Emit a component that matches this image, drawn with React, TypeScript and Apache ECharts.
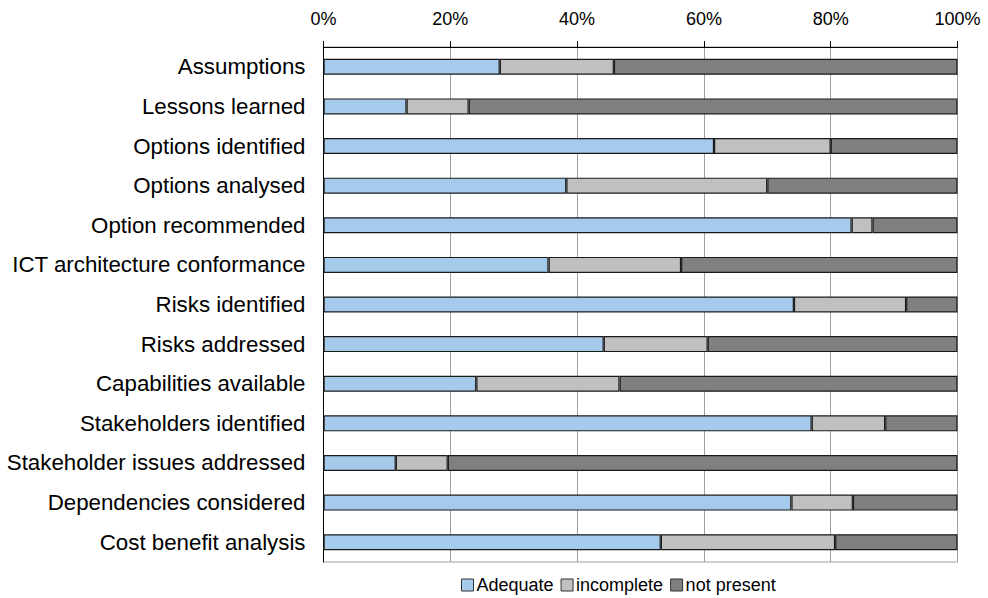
import React, { useEffect, useRef } from "react";
import * as echarts from "echarts";

const categories = [
  "Assumptions",
  "Lessons learned",
  "Options identified",
  "Options analysed",
  "Option recommended",
  "ICT architecture conformance",
  "Risks identified",
  "Risks addressed",
  "Capabilities available",
  "Stakeholders identified",
  "Stakeholder issues addressed",
  "Dependencies considered",
  "Cost benefit analysis",
];

const adequate = [27.8, 13.1, 61.6, 38.3, 83.3, 35.5, 74.2, 44.2, 24.1, 77.0, 11.4, 73.8, 53.2];
const incomplete = [18.0, 9.8, 18.4, 31.7, 3.3, 20.9, 17.7, 16.4, 22.6, 11.6, 8.2, 9.7, 27.5];
const notPresent = [54.2, 77.1, 20.0, 30.0, 13.4, 43.6, 8.1, 39.4, 53.3, 11.4, 80.4, 16.5, 19.3];

const seriesNames = ["Adequate", "incomplete", "not present"];
const seriesColors = ["#a6caec", "#c0c0c0", "#808080"];
const tickValues = [0, 20, 40, 60, 80, 100];

export default function App() {
  const ref = useRef<HTMLDivElement>(null);
  useEffect(() => {
    if (!ref.current) return;
    const chart = echarts.init(ref.current, null, { renderer: "svg" });
    const data = [adequate, incomplete, notPresent];
    chart.setOption({
      animation: false,
      textStyle: { fontFamily: "Liberation Sans, Arial, sans-serif", color: "#000" },
      grid: {
        left: 323.5,
        right: 30.5,
        top: 47,
        bottom: 36,
        show: true,
        borderColor: "#a0a0a0",
        borderWidth: 1,
        backgroundColor: "#fff",
      },
      legend: {
        data: seriesNames.map((n, i) => ({ name: n, itemStyle: { color: seriesColors[i], borderColor: "#333", borderWidth: 1 } })),
        left: 456,
        top: 571,
        itemWidth: 12,
        itemHeight: 12,
        itemGap: 7,
        icon: "rect",
        textStyle: { fontSize: 18, color: "#000", padding: [0, 0, 0, -2], fontFamily: "Liberation Sans, Arial, sans-serif" },
      },
      xAxis: {
        type: "value",
        position: "top",
        min: tickValues[0],
        max: tickValues[tickValues.length - 1],
        interval: 20,
        axisLine: { show: true, lineStyle: { color: "#000", width: 1 } },
        axisTick: { show: true, inside: false, length: 6, lineStyle: { color: "#000" } },
        axisLabel: { formatter: "{value}%", fontSize: 18, color: "#000", margin: 19 },
        splitLine: { show: true, lineStyle: { color: "#a0a0a0", width: 1 } },
      },
      yAxis: {
        type: "category",
        inverse: true,
        data: categories,
        axisLine: { show: true, lineStyle: { color: "#000", width: 1 } },
        axisTick: { show: false },
        axisLabel: { fontSize: 22.3, color: "#000", margin: 18 },
        splitLine: { show: false },
      },
      series: seriesNames.map((name, i) => ({
        name,
        type: "bar",
        stack: "total",
        barWidth: 16,
        data: data[i],
        itemStyle: { color: seriesColors[i], borderColor: "#1a1a1a", borderWidth: 1.2 },
      })),
    });
    return () => chart.dispose();
  }, []);
  return (
    <div
      ref={ref}
      style={{ position: "absolute", left: 0, top: 0, width: 988, height: 598, background: "#fff" }}
    />
  );
}
